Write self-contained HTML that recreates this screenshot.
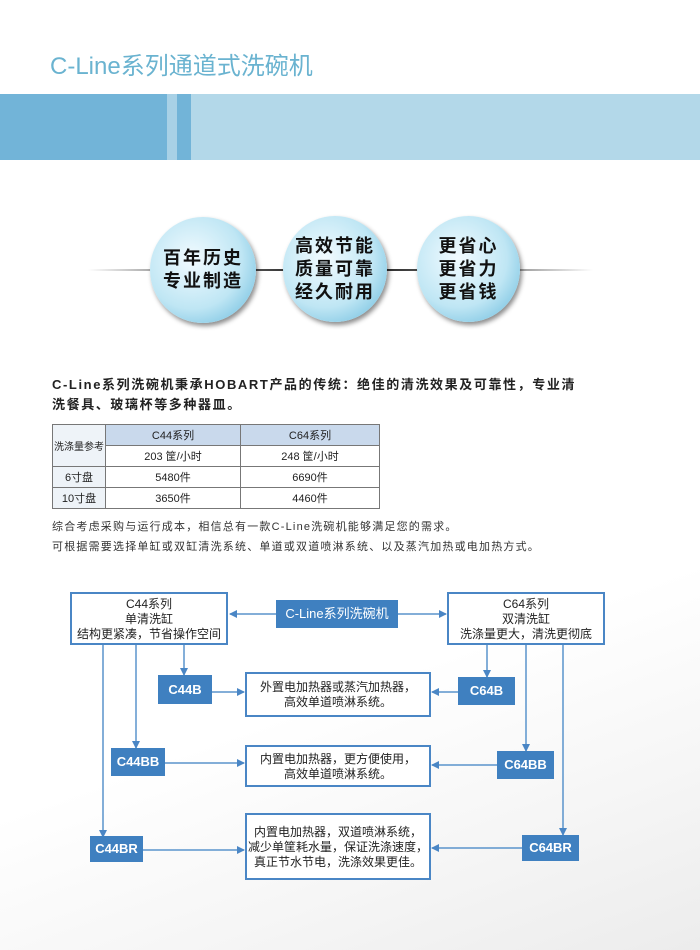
<!DOCTYPE html>
<html><head><meta charset="utf-8"><style>
body{margin:0;width:700px;height:950px;position:relative;background:#fff;font-family:"Liberation Sans","Noto Sans CJK SC",sans-serif;overflow:hidden}
.a{position:absolute}
.bx{position:absolute;border:2px solid #4a86c5;background:#fff;box-sizing:border-box;font-size:12px;color:#222;text-align:center;line-height:15px}
.bl{position:absolute;background:#3f80c0;color:#fff;font-weight:bold;font-size:13px;text-align:center;box-sizing:border-box}
.c{position:absolute;border-radius:50%;background:radial-gradient(circle at 40% 40%,#f2fbff 0%,#bfe6f4 55%,#5eb5da 100%);box-shadow:2px 3px 5px rgba(0,0,0,.45);font-weight:bold;font-size:18px;color:#111;text-align:center;display:flex;align-items:center;justify-content:center;line-height:23px;letter-spacing:2px}
table{border-collapse:collapse;font-size:11px;color:#222}
td{border:1px solid #777;text-align:center;height:20px;padding:0;white-space:nowrap}
</style></head><body>
<div class="a" style="left:0;top:560px;width:700px;height:390px;background:linear-gradient(160deg,#fff 40%,#f6f6f6 70%,#ececec 100%)"></div>
<div class="a" style="left:50px;top:46px;font-size:24px;color:#6ab3d0">C-Line系列通道式洗碗机</div>
<div class="a" style="left:0;top:94px;width:700px;height:66px;background:#b3d8e9"></div>
<div class="a" style="left:0;top:94px;width:167px;height:66px;background:#72b4d8"></div>
<div class="a" style="left:167px;top:94px;width:10px;height:66px;background:#a8d1e6"></div>
<div class="a" style="left:177px;top:94px;width:14px;height:66px;background:#72b4d8"></div>
<div class="a" style="left:88px;top:269px;width:505px;height:2px;background:linear-gradient(90deg,#fff,#999 15%,#333 40%,#333 60%,#999 85%,#fff)"></div>
<div class="c" style="left:150px;top:217px;width:106px;height:106px">百年历史<br>专业制造</div>
<div class="c" style="left:283px;top:216px;width:104px;height:106px">高效节能<br>质量可靠<br>经久耐用</div>
<div class="c" style="left:417px;top:216px;width:103px;height:106px">更省心<br>更省力<br>更省钱</div>
<div class="a" style="left:52px;top:375px;font-size:13px;font-weight:bold;color:#222;letter-spacing:1.6px;line-height:20px;width:600px">C-Line系列洗碗机秉承HOBART产品的传统：绝佳的清洗效果及可靠性，专业清<br>洗餐具、玻璃杯等多种器皿。</div>
<table class="a" style="left:52px;top:424px;width:328px">
<tr><td rowspan="2" style="width:52px;background:#eef3f8;font-size:10px">洗涤量参考</td><td style="width:134px;background:#c9d9ec">C44系列</td><td style="background:#c9d9ec">C64系列</td></tr>
<tr><td>203 筐/小时</td><td>248 筐/小时</td></tr>
<tr><td style="background:#eef3f8">6寸盘</td><td>5480件</td><td>6690件</td></tr>
<tr><td style="background:#eef3f8">10寸盘</td><td>3650件</td><td>4460件</td></tr>
</table>
<div class="a" style="left:52px;top:517px;font-size:11px;color:#333;line-height:20px;letter-spacing:1.2px">综合考虑采购与运行成本，相信总有一款C-Line洗碗机能够满足您的需求。<br>可根据需要选择单缸或双缸清洗系统、单道或双道喷淋系统、以及蒸汽加热或电加热方式。</div>
<svg class="a" style="left:0;top:0" width="700" height="950">
<defs><marker id="m" markerWidth="8" markerHeight="8" refX="7" refY="4" orient="auto" markerUnits="userSpaceOnUse"><path d="M0,0L8,4L0,8z" fill="#4a86c5"/></marker></defs>
<g stroke="#5a94cc" stroke-width="1.5" fill="none" marker-end="url(#m)">
<line x1="276" y1="614" x2="230" y2="614"/><line x1="398" y1="614" x2="446" y2="614"/>
<line x1="184" y1="645" x2="184" y2="675"/><line x1="136" y1="645" x2="136" y2="748"/><line x1="103" y1="645" x2="103" y2="837"/>
<line x1="487" y1="645" x2="487" y2="677"/><line x1="526" y1="645" x2="526" y2="751"/><line x1="563" y1="645" x2="563" y2="835"/>
<line x1="212" y1="692" x2="244" y2="692"/><line x1="165" y1="763" x2="244" y2="763"/><line x1="143" y1="850" x2="244" y2="850"/>
<line x1="458" y1="692" x2="432" y2="692"/><line x1="497" y1="765" x2="432" y2="765"/><line x1="522" y1="848" x2="432" y2="848"/>
</g></svg>
<div class="bx" style="left:70px;top:592px;width:158px;height:53px;padding-top:3px">C44系列<br>单清洗缸<br>结构更紧凑，节省操作空间</div>
<div class="bx" style="left:447px;top:592px;width:158px;height:53px;padding-top:3px">C64系列<br>双清洗缸<br>洗涤量更大，清洗更彻底</div>
<div class="bl" style="left:276px;top:600px;width:122px;height:28px;line-height:28px;font-weight:normal">C-Line系列洗碗机</div>
<div class="bl" style="left:158px;top:675px;width:54px;height:29px;line-height:29px">C44B</div>
<div class="bl" style="left:458px;top:677px;width:57px;height:28px;line-height:28px">C64B</div>
<div class="bl" style="left:111px;top:748px;width:54px;height:28px;line-height:28px">C44BB</div>
<div class="bl" style="left:497px;top:751px;width:57px;height:28px;line-height:28px">C64BB</div>
<div class="bl" style="left:90px;top:836px;width:53px;height:26px;line-height:26px">C44BR</div>
<div class="bl" style="left:522px;top:835px;width:57px;height:26px;line-height:26px">C64BR</div>
<div class="bx" style="left:245px;top:672px;width:186px;height:45px;padding-top:6px">外置电加热器或蒸汽加热器，<br>高效单道喷淋系统。</div>
<div class="bx" style="left:245px;top:745px;width:186px;height:42px;padding-top:5px">内置电加热器，更方便使用，<br>高效单道喷淋系统。</div>
<div class="bx" style="left:245px;top:813px;width:186px;height:67px;padding-top:10px">内置电加热器，双道喷淋系统，<br>减少单筐耗水量，保证洗涤速度，<br>真正节水节电，洗涤效果更佳。</div>
</body></html>
